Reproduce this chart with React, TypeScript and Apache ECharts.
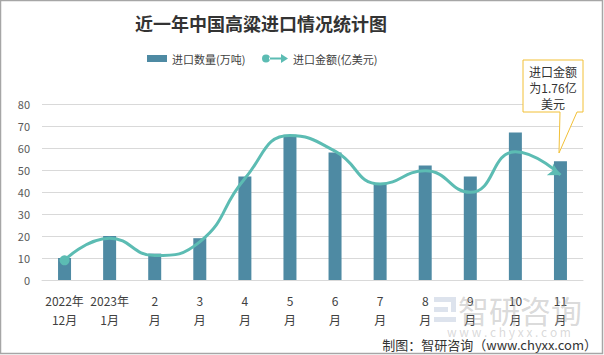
import React, { useEffect, useRef } from "react";
import * as echarts from "echarts";

const categories = ["2022年\n12月", "2023年\n1月", "2\n月", "3\n月", "4\n月", "5\n月", "6\n月", "7\n月", "8\n月", "9\n月", "10\n月", "11\n月"];
const volume = [10, 20, 12, 19, 47, 66, 58, 44, 52, 47, 67, 54];
const amount = [0.33, 0.70, 0.41, 0.64, 1.70, 2.42, 2.16, 1.61, 1.83, 1.47, 2.15, 1.76];
const yTicks = { min: 0, max: 80, interval: 10 };
const title = "近一年中国高粱进口情况统计图";
const seriesNames = ["进口数量(万吨)", "进口金额(亿美元)"];
const calloutLines = ["进口金额", "为1.76亿", "美元"];
const footer = "制图：智研咨询（www.chyxx.com）";

const FONT = "'Noto Sans CJK SC', 'Noto Sans', sans-serif";

export default function App() {
  const ref = useRef<HTMLDivElement>(null);
  useEffect(() => {
    if (!ref.current) return;
    const chart = echarts.init(ref.current, undefined, { renderer: "svg" });
    const lineData = amount.map((v, i) => {
      if (i === 0) return { value: v, symbol: "circle", symbolSize: 10 };
      if (i === amount.length - 1) return { value: v, symbol: "arrow", symbolSize: [10, 12], symbolRotate: -118 };
      return { value: v, symbol: "none" };
    });
    chart.setOption({
      animation: false,
      backgroundColor: "#ffffff",
      textStyle: { fontFamily: FONT },
      legend: [
        {
          left: 147,
          top: 53,
          padding: 0,
          itemWidth: 20,
          itemHeight: 7,
          itemGap: 4,
          textStyle: { fontSize: 11, color: "#404040", fontFamily: FONT },
          data: [{ name: seriesNames[0], icon: "rect" }],
        },
        {
          left: 262,
          top: 53,
          padding: 0,
          itemWidth: 26,
          itemHeight: 10,
          itemGap: 4,
          textStyle: { fontSize: 11, color: "#404040", fontFamily: FONT },
          data: [
            {
              name: seriesNames[1],
              icon: "path://M0,5a4,4 0 1,0 8,0a4,4 0 1,0 -8,0z M7,4h12v-3.5l7,4.5l-7,4.5v-3.5h-12z",
            },
          ],
        },
      ],
      grid: { left: 42, right: 21, top: 104, bottom: 75, containLabel: false },
      xAxis: {
        type: "category",
        data: categories,
        axisTick: { show: false },
        axisLine: { lineStyle: { color: "#d9d9d9" } },
        axisLabel: {
          interval: 0,
          fontSize: 12,
          color: "#404040",
          lineHeight: 19,
          margin: 11,
          fontFamily: FONT,
        },
      },
      yAxis: [
        {
          type: "value",
          min: yTicks.min,
          max: yTicks.max,
          interval: yTicks.interval,
          axisLine: { show: false },
          axisTick: { show: false },
          splitLine: { lineStyle: { color: "#d9d9d9" } },
          axisLabel: { fontSize: 11, color: "#595959", margin: 12, fontFamily: FONT },
        },
        {
          type: "value",
          min: 0,
          max: 2.95,
          show: false,
          splitLine: { show: false },
        },
      ],
      series: [
        {
          name: seriesNames[0],
          type: "bar",
          data: volume,
          barWidth: 13,
          itemStyle: { color: "#4E8AA3" },
        },
        {
          name: seriesNames[1],
          type: "line",
          yAxisIndex: 1,
          data: lineData,
          smooth: 0.5,
          lineStyle: { color: "#5CBCB3", width: 3 },
          itemStyle: { color: "#5CBCB3" },
        },
      ],
      graphic: [
        {
          type: "rect",
          shape: { x: 0.5, y: 0.5, width: 602, height: 353 },
          style: { fill: "none", stroke: "#a6a6a6", lineWidth: 1.5 },
          silent: true,
        },
        {
          type: "text",
          x: 261,
          y: 23,
          style: {
            text: title,
            fill: "#333333",
            fontSize: 18,
            fontWeight: "bold",
            fontFamily: FONT,
            align: "center",
            verticalAlign: "middle",
          },
        },
        {
          type: "polygon",
          shape: {
            points: [
              [523, 60],
              [583, 60],
              [583, 112],
              [577, 112],
              [559, 153],
              [560, 112],
              [523, 112],
            ],
          },
          style: { fill: "#ffffff", stroke: "#F2C037", lineWidth: 1 },
          z: 100,
        },
        ...calloutLines.map((t, i) => ({
          type: "text",
          x: 553,
          y: 71 + i * 16,
          z: 101,
          style: {
            text: t,
            fill: "#333333",
            fontSize: 12,
            fontFamily: FONT,
            align: "center",
            verticalAlign: "middle",
          },
        })),
        {
          type: "rect",
          shape: { x: 434, y: 297, width: 22, height: 5 },
          style: { fill: "rgba(170,185,210,0.4)" },
          z: 90,
        },
        {
          type: "rect",
          shape: { x: 434, y: 307, width: 14, height: 5 },
          style: { fill: "rgba(170,185,210,0.4)" },
          z: 90,
        },
        {
          type: "rect",
          shape: { x: 434, y: 317, width: 22, height: 5 },
          style: { fill: "rgba(170,185,210,0.4)" },
          z: 90,
        },
        {
          type: "rect",
          shape: { x: 451, y: 302, width: 5, height: 10 },
          style: { fill: "rgba(170,185,210,0.4)" },
          z: 90,
        },
        {
          type: "text",
          x: 458,
          y: 309,
          z: 90,
          style: {
            text: "智研咨询",
            fill: "rgba(160,160,160,0.4)",
            fontSize: 31,
            fontFamily: FONT,
            verticalAlign: "middle",
          },
        },
        {
          type: "text",
          x: 509,
          y: 331,
          z: 90,
          style: {
            text: "w w w . c h y x x . c o m",
            fill: "rgba(160,160,160,0.4)",
            fontSize: 12,
            fontFamily: FONT,
            align: "center",
            verticalAlign: "middle",
          },
        },
        {
          type: "text",
          x: 597,
          y: 344,
          z: 95,
          style: {
            text: footer,
            fill: "#333333",
            fontSize: 13,
            fontFamily: FONT,
            align: "right",
            verticalAlign: "middle",
          },
        },
      ],
    });
    return () => chart.dispose();
  }, []);
  return (
    <div
      ref={ref}
      style={{ position: "absolute", left: 0, top: 0, width: 604, height: 355 }}
    />
  );
}
